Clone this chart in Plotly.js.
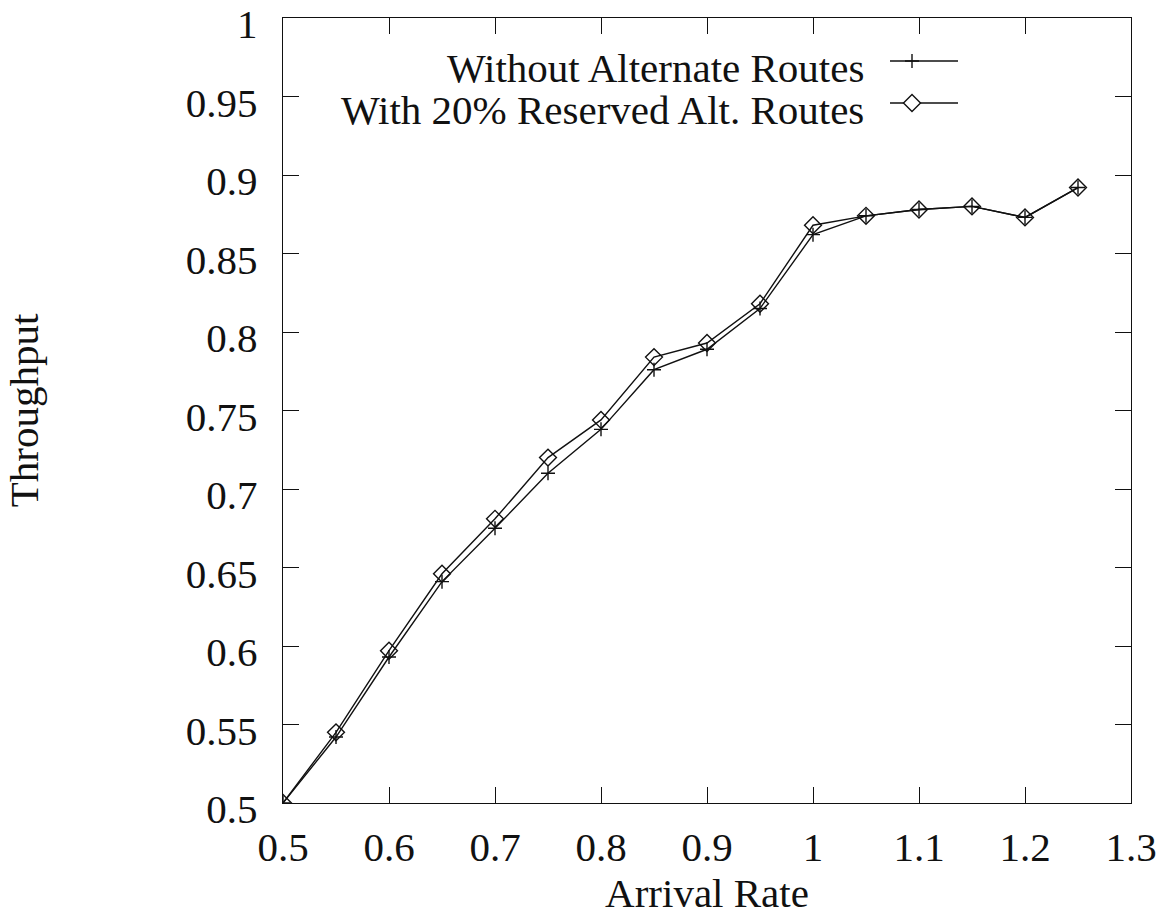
<!DOCTYPE html>
<html>
<head>
<meta charset="utf-8">
<script src="https://cdn.plot.ly/plotly-3.0.1.min.js"></script>
<style>
  html, body { margin: 0; padding: 0; background: #ffffff; }
  #chart { width: 1166px; height: 917px; }
</style>
</head>
<body>
<div id="chart"></div>
<script>
// Data
const arrivalRate = [0.5, 0.55, 0.6, 0.65, 0.7, 0.75, 0.8, 0.85, 0.9, 0.95, 1.0, 1.05, 1.1, 1.15, 1.2, 1.25];
const withoutAlt = [0.5, 0.542, 0.593, 0.641, 0.675, 0.710, 0.738, 0.776, 0.789, 0.815, 0.862, 0.874, 0.878, 0.880, 0.873, 0.892];
const withReserved = [0.5, 0.545, 0.597, 0.646, 0.681, 0.720, 0.744, 0.784, 0.793, 0.818, 0.868, 0.874, 0.878, 0.880, 0.873, 0.892];
const seriesNames = ["Without Alternate Routes", "With 20% Reserved Alt. Routes"];
const xTickVals = [0.5, 0.6, 0.7, 0.8, 0.9, 1.0, 1.1, 1.2, 1.3];
const xTickText = ["0.5", "0.6", "0.7", "0.8", "0.9", "1", "1.1", "1.2", "1.3"];
const yTickVals = [0.5, 0.55, 0.6, 0.65, 0.7, 0.75, 0.8, 0.85, 0.9, 0.95, 1.0];
const yTickText = ["0.5", "0.55", "0.6", "0.65", "0.7", "0.75", "0.8", "0.85", "0.9", "0.95", "1"];
const xTitle = "Arrival Rate";
const yTitle = "Throughput";

const FONT = "Liberation Serif, Times New Roman, serif";
const INK = "#111111";
const FS = 41;

const traces = [
  {
    x: arrivalRate, y: withoutAlt, name: seriesNames[0],
    type: "scatter", mode: "lines+markers",
    line: { color: INK, width: 1.4 },
    marker: { symbol: "cross-thin-open", size: 10, color: INK, line: { color: INK, width: 1.4 } },
    showlegend: false
  },
  {
    x: arrivalRate, y: withReserved, name: seriesNames[1],
    type: "scatter", mode: "lines+markers",
    line: { color: INK, width: 1.4 },
    marker: { symbol: "diamond-open", size: 13, color: INK, line: { color: INK, width: 1.4 } },
    showlegend: false
  }
];

// plot area in pixels: left 283, right 1131, top 18, bottom 803
const L = 283, R = 1131, T = 18, B = 803;
const px = v => (v - L) / (R - L);
const py = v => (B - v) / (B - T);

// custom legend (text on the left, sample on the right, as in the reference)
const legendRows = [
  { y: 61, name: seriesNames[0], sym: "M-7,0 L7,0 M0,-7 L0,7" },
  { y: 103, name: seriesNames[1], sym: "M-8.5,0 L0,8.5 L8.5,0 L0,-8.5 Z" }
];
const annotations = legendRows.map(r => ({
  xref: "paper", yref: "paper", x: px(866), y: py(r.y + 7),
  xanchor: "right", yanchor: "middle", showarrow: false,
  text: r.name, font: { family: FONT, size: FS, color: INK }
}));
const shapes = [];
legendRows.forEach(r => {
  shapes.push({ type: "line", xref: "paper", yref: "paper",
    x0: px(890), x1: px(958), y0: py(r.y), y1: py(r.y),
    line: { color: INK, width: 1.4 } });
  shapes.push({ type: "path", xref: "paper", yref: "paper",
    xsizemode: "pixel", ysizemode: "pixel",
    xanchor: px(912), yanchor: py(r.y),
    path: r.sym, fillcolor: "rgba(255,255,255,1)",
    line: { color: INK, width: 1.4 } });
});

const layout = {
  width: 1166, height: 917,
  margin: { l: L, r: 1166 - R, t: T, b: 917 - B, pad: 0 },
  paper_bgcolor: "#ffffff", plot_bgcolor: "#ffffff",
  font: { family: FONT, size: FS, color: INK },
  showlegend: false,
  xaxis: {
    range: [0.5, 1.3], tickmode: "array", tickvals: xTickVals, ticktext: xTickText,
    showgrid: false, zeroline: false,
    showline: true, linecolor: INK, linewidth: 1.2, mirror: "ticks",
    ticks: "inside", ticklen: 16, tickwidth: 1, tickcolor: INK,
    tickfont: { family: FONT, size: FS, color: INK },
    ticklabelstandoff: 8, ticklabeloverflow: "allow",
    title: { text: xTitle, font: { family: FONT, size: FS, color: INK }, standoff: 4 },
    automargin: false
  },
  yaxis: {
    range: [0.5, 1.0], tickmode: "array", tickvals: yTickVals, ticktext: yTickText,
    showgrid: false, zeroline: false,
    showline: true, linecolor: INK, linewidth: 1.2, mirror: "ticks",
    ticks: "inside", ticklen: 16, tickwidth: 1, tickcolor: INK,
    tickfont: { family: FONT, size: FS, color: INK },
    ticklabelstandoff: 16, ticklabelshift: 6, ticklabeloverflow: "allow",
    title: { text: yTitle, font: { family: FONT, size: FS, color: INK }, standoff: 134 },
    automargin: false
  },
  annotations: annotations,
  shapes: shapes
};

Plotly.newPlot("chart", traces, layout, { staticPlot: true, displayModeBar: false });
</script>
</body>
</html>
